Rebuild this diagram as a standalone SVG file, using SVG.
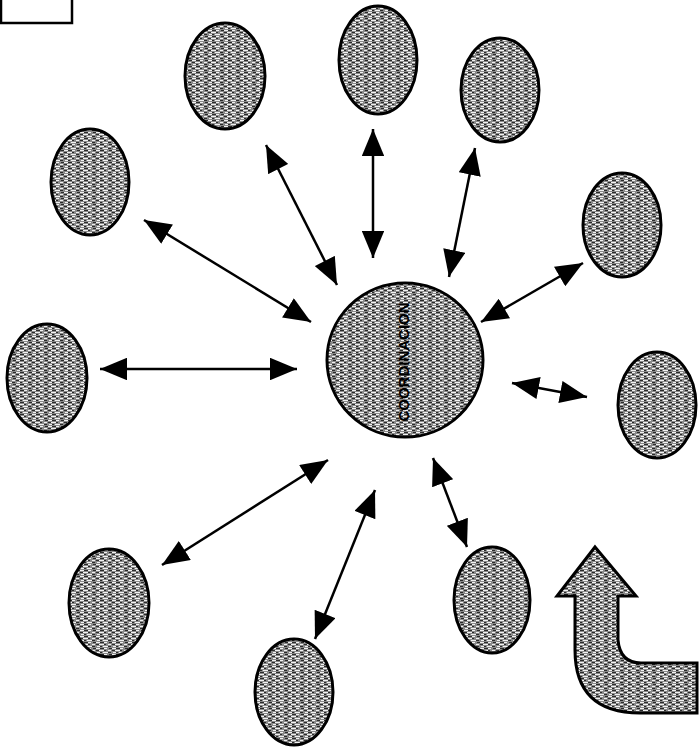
<svg xmlns="http://www.w3.org/2000/svg" width="699" height="748" viewBox="0 0 699 748">
<style>
.node{stroke:#000;stroke-width:3;fill:url(#tex)}
.conn{stroke:#000;stroke-width:2.5;fill:none;marker-start:url(#ah);marker-end:url(#ah)}
.lbl{font-family:"Liberation Sans",Arial,sans-serif;font-size:15px;font-weight:bold;fill:#000}
</style>
<defs>
<pattern id="tex" width="16" height="6" patternUnits="userSpaceOnUse">
<rect width="16" height="6" fill="#8a8a8a"/>
<path d="M0 0.5h4M8 0.5h3M3 2.5h5M12 2.5h3M1 4.5h3M7 4.5h5" stroke="#f2f2f2" stroke-width="1"/>
<path d="M4 0.5h4M13 0.5h3M0 2.5h3M8 2.5h2M12 4.5h3M4 4.5h2" stroke="#2a2a2a" stroke-width="1"/>
</pattern>
<marker id="ah" viewBox="0 0 12 10" refX="12" refY="5" markerWidth="11" markerHeight="9" markerUnits="strokeWidth" orient="auto-start-reverse">
<path d="M0 0L12 5L0 10Z" fill="#000"/>
</marker>
</defs>
<rect x="1" y="-10" width="71" height="33" fill="#fff" stroke="#000" stroke-width="2.5"/>
<g id="connectors">
<line class="conn" x1="266" y1="145" x2="337" y2="285"/>
<line class="conn" x1="373" y1="129" x2="373" y2="258"/>
<line class="conn" x1="475" y1="148" x2="449" y2="277"/>
<line class="conn" x1="144" y1="220" x2="311" y2="322"/>
<line class="conn" x1="100" y1="369" x2="297" y2="369"/>
<line class="conn" x1="583" y1="263" x2="481" y2="322"/>
<line class="conn" x1="512" y1="383" x2="587" y2="397"/>
<line class="conn" x1="328" y1="460" x2="162" y2="565"/>
<line class="conn" x1="375" y1="490" x2="315" y2="639"/>
<line class="conn" x1="433" y1="458" x2="467" y2="547"/>
</g>
<g id="center">
<ellipse class="node" cx="405" cy="360" rx="78" ry="77"/>
<text class="lbl" x="405" y="362" text-anchor="middle" dominant-baseline="middle" transform="rotate(-90 405 362)">COORDINACION</text>
</g>
<g id="n1"><ellipse class="node" cx="225" cy="76" rx="40" ry="53"/></g>
<g id="n2"><ellipse class="node" cx="378" cy="60" rx="39" ry="54"/></g>
<g id="n3"><ellipse class="node" cx="500" cy="90" rx="39" ry="52"/></g>
<g id="n4"><ellipse class="node" cx="90" cy="182" rx="39" ry="53"/></g>
<g id="n5"><ellipse class="node" cx="47" cy="378" rx="40" ry="54"/></g>
<g id="n6"><ellipse class="node" cx="622" cy="225" rx="39" ry="52"/></g>
<g id="n7"><ellipse class="node" cx="657" cy="405" rx="39" ry="53"/></g>
<g id="n8"><ellipse class="node" cx="109" cy="603" rx="40" ry="54"/></g>
<g id="n9"><ellipse class="node" cx="294" cy="692" rx="39" ry="53"/></g>
<g id="n10"><ellipse class="node" cx="492" cy="600" rx="38" ry="53"/></g>
<g id="uturn">
<path class="node" d="M595 547L636 596L618 596L618 640Q620 663 641 663L697 663L697 713L640 713Q575 713 575 650L575 596L557 596Z"/>
</g>
</svg>
